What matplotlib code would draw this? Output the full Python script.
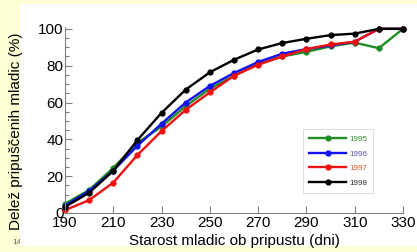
import numpy as np
import matplotlib
matplotlib.use("Agg")
import matplotlib.pyplot as plt
from matplotlib.patches import Rectangle
from matplotlib.ticker import MultipleLocator

plt.rcParams['font.family'] = ['Liberation Sans', 'DejaVu Sans']

days = [190, 200, 210, 220, 230, 240, 250, 260, 270, 280, 290, 300, 310, 320, 330]
y1995 = [5, 12.5, 24.5, 38, 47, 58, 67.5, 74.5, 81, 85, 87.5, 90.5, 92.5, 89.5, 100]
y1996 = [4, 12, 23, 36.5, 48.5, 60, 69, 76, 82, 86.5, 89, 91, 93, 100, 100]
y1997 = [1.5, 7, 16.5, 31.5, 44.5, 56, 65.5, 74.5, 80.5, 85, 89, 91.5, 93, 100, 100]
y1998 = [3.3, 11, 22.9, 39.6, 54.4, 67, 76.4, 83.2, 88.8, 92.3, 94.6, 96.6, 97.4, 100, 100]
years = ["1995", "1996", "1997", "1998"]
colors = ["#1f8c23", "#1010f0", "#f01010", "#000000"]
text_colors = ["#2e8b2e", "#5050a8", "#d05028", "#303030"]

W, H = 417, 252
fig = plt.figure(figsize=(W/100, H/100), dpi=100, facecolor="#ffffd6")
fig.text(12/W, 1 - 243/H, "14", fontsize=6, color="#555555", va="center", zorder=-2)
fig.patches.append(Rectangle((20/W, 1 - 246/H), 1 - 20/W, (246-4)/H,
                             transform=fig.transFigure, facecolor="white",
                             edgecolor="none", zorder=-1))

ax = fig.add_axes([65/W, 1 - 213/H, (403-65)/W, (213-27)/H])
ax.set_facecolor("none")
for vals, c in zip([y1995, y1996, y1997, y1998], colors):
    ax.plot(days, vals, color=c, lw=1.7, marker="o", ms=3.5, clip_on=False)

ax.set_xlim(190, 330); ax.set_ylim(0, 101)
ax.set_xticks(range(190, 331, 20))
ax.set_yticks(range(0, 101, 20))
ax.yaxis.set_minor_locator(MultipleLocator(5))
for s in ["top", "right"]:
    ax.spines[s].set_visible(False)
for s in ["left", "bottom"]:
    ax.spines[s].set_color("#808080"); ax.spines[s].set_linewidth(0.8)
ax.tick_params(direction="in", colors="#808080", labelcolor="black", labelsize=11,
               length=5, width=0.8, pad=1)
ax.tick_params(axis="x", pad=2)
ax.tick_params(which="minor", direction="in", colors="#808080", length=3, width=0.8)
ax.set_xlabel("Starost mladic ob pripustu (dni)", fontsize=11, labelpad=3)
ax.set_ylabel("Delež pripuščenih mladic (%)", fontsize=11)
ax.yaxis.set_label_coords(-0.125, 0.44)

leg = ax.legend(years, loc="upper left", bbox_to_anchor=(234/338, 1 - (125-27)/186),
                fontsize=5.8, frameon=True, handlelength=4.5, labelspacing=0.85,
                borderpad=0.8, handletextpad=0.4, fancybox=False)
leg.get_frame().set_edgecolor("#cccccc"); leg.get_frame().set_linewidth(0.6)
for t, c in zip(leg.get_texts(), text_colors):
    t.set_color(c)

fig.savefig("out.png", dpi=100, facecolor=fig.get_facecolor())
